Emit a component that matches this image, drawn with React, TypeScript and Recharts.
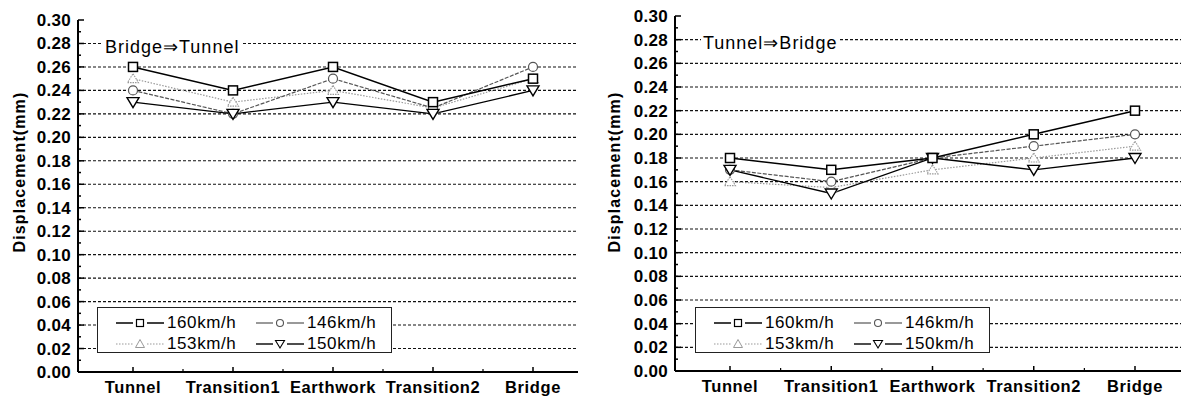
import React from "react";
import { LineChart, Line, XAxis, YAxis, CartesianGrid, ReferenceArea } from "recharts";

// ---- data ----
const sections = ["Tunnel", "Transition1", "Earthwork", "Transition2", "Bridge"];
const speeds = ["160km/h", "146km/h", "153km/h", "150km/h"];

// Bridge => Tunnel
const left160 = [0.26, 0.24, 0.26, 0.23, 0.25];
const left146 = [0.24, 0.22, 0.25, 0.225, 0.26];
const left153 = [0.25, 0.23, 0.24, 0.225, 0.25];
const left150 = [0.23, 0.22, 0.23, 0.22, 0.24];

// Tunnel => Bridge
const right160 = [0.18, 0.17, 0.18, 0.2, 0.22];
const right146 = [0.17, 0.16, 0.18, 0.19, 0.2];
const right153 = [0.16, 0.155, 0.17, 0.18, 0.19];
const right150 = [0.17, 0.15, 0.18, 0.17, 0.18];

const yTicks = [
  0, 0.01, 0.02, 0.03, 0.04, 0.05, 0.06, 0.07, 0.08, 0.09, 0.1, 0.11, 0.12, 0.13, 0.14, 0.15,
  0.16, 0.17, 0.18, 0.19, 0.2, 0.21, 0.22, 0.23, 0.24, 0.25, 0.26, 0.27, 0.28, 0.29, 0.3,
];
const gridValues = [0.02, 0.04, 0.06, 0.08, 0.1, 0.12, 0.14, 0.16, 0.18, 0.2, 0.22, 0.24, 0.26, 0.28];

const FONT = "'Liberation Sans', Arial, sans-serif";

function buildRows(a: number[], b: number[], c: number[], d: number[]) {
  return sections.map((s, i) => ({ section: s, v160: a[i], v146: b[i], v153: c[i], v150: d[i] }));
}

// ---- markers ----
function SquareDot({ cx, cy }: any) {
  if (cx == null || cy == null) return null;
  return <rect x={cx - 4.5} y={cy - 4.5} width={9} height={9} fill="#fff" stroke="#000" strokeWidth={1.5} />;
}
function CircleDot({ cx, cy }: any) {
  if (cx == null || cy == null) return null;
  return <circle cx={cx} cy={cy} r={4.5} fill="#fff" stroke="#555" strokeWidth={1.2} />;
}
function UpDot({ cx, cy }: any) {
  if (cx == null || cy == null) return null;
  return (
    <path
      d={`M${cx},${cy - 5} L${cx + 5.5},${cy + 4} L${cx - 5.5},${cy + 4} Z`}
      fill="#fff"
      stroke="#999"
      strokeWidth={1.1}
      strokeDasharray="1.5 1"
    />
  );
}
function DownDot({ cx, cy }: any) {
  if (cx == null || cy == null) return null;
  return (
    <path
      d={`M${cx - 6},${cy - 4.5} L${cx + 6},${cy - 4.5} L${cx},${cy + 5.5} Z`}
      fill="#fff"
      stroke="#000"
      strokeWidth={1.4}
    />
  );
}

// ---- ticks ----
function YTick({ x, y, payload }: any) {
  const v = payload.value as number;
  const major = Math.round(v * 100) % 2 === 0;
  return (
    <g>
      <line x1={x} y1={y} x2={x + (major ? 6 : 3)} y2={y} stroke="#000" strokeWidth={1.5} />
      {major && (
        <text x={x - 7} y={y + 6} textAnchor="end" fontFamily={FONT} fontWeight="bold" fontSize={17} letterSpacing={0.3} fill="#000">
          {v.toFixed(2)}
        </text>
      )}
    </g>
  );
}

function XTick({ x, y, payload, step }: any) {
  const last = payload.value === sections[sections.length - 1];
  return (
    <g>
      <line x1={x} y1={y} x2={x} y2={y - 5} stroke="#000" strokeWidth={1.5} />
      {!last && <line x1={x + step / 2} y1={y} x2={x + step / 2} y2={y - 3} stroke="#000" strokeWidth={1.2} />}
      <text
        x={x}
        y={y + 21}
        textAnchor="middle"
        fontFamily={FONT}
        fontSize={16.5}
        fontWeight="bold"
        letterSpacing={0.6}
        fill="#000"
      >
        {payload.value}
      </text>
    </g>
  );
}

// ---- legend ----
function Sample({ kind }: { kind: number }) {
  const lineProps =
    kind === 0
      ? { stroke: "#000", strokeWidth: 1.5 }
      : kind === 1
      ? { stroke: "#555", strokeWidth: 1.2 }
      : kind === 2
      ? { stroke: "#999", strokeWidth: 1.2, strokeDasharray: "1.5 1.5" }
      : { stroke: "#000", strokeWidth: 1.4 };
  return (
    <svg width={48} height={14} style={{ position: "absolute", left: 0, top: 0 }}>
      <line x1={0} y1={7} x2={17} y2={7} {...lineProps} />
      <line x1={31} y1={7} x2={48} y2={7} {...lineProps} />
      {kind === 0 && <rect x={20.5} y={3.5} width={7} height={7} fill="#fff" stroke="#000" strokeWidth={1.2} />}
      {kind === 1 && <circle cx={24} cy={7} r={3.5} fill="#fff" stroke="#555" strokeWidth={1.1} />}
      {kind === 2 && <path d="M24,2.5 L28.5,10.5 L19.5,10.5 Z" fill="#fff" stroke="#999" strokeWidth={1} />}
      {kind === 3 && <path d="M19.5,3.5 L28.5,3.5 L24,11 Z" fill="#fff" stroke="#000" strokeWidth={1.1} />}
    </svg>
  );
}

function LegendBox({ left, top }: { left: number; top: number }) {
  const spots = [
    { kind: 0, x: 18, y: 8 },
    { kind: 1, x: 158, y: 8 },
    { kind: 2, x: 18, y: 29 },
    { kind: 3, x: 158, y: 29 },
  ];
  return (
    <div
      style={{
        position: "absolute",
        left,
        top,
        width: 295,
        height: 46,
        boxSizing: "border-box",
        border: "1px solid #222",
        background: "#fff",
        fontFamily: FONT,
      }}
    >
      {spots.map((s) => (
        <div key={s.kind} style={{ position: "absolute", left: s.x, top: s.y, width: 140, height: 16 }}>
          <Sample kind={s.kind} />
          <span
            style={{
              position: "absolute",
              left: 51,
              top: -2,
              fontSize: 17,
              lineHeight: "18px",
              letterSpacing: 0.6,
              color: "#000",
              whiteSpace: "nowrap",
            }}
          >
            {speeds[s.kind]}
          </span>
        </div>
      ))}
    </div>
  );
}

// ---- one panel ----
function Panel(props: {
  left: number;
  width: number;
  top: number;
  right: number;
  yWidth: number;
  xHeight: number;
  step: number;
  padRight: number;
  rows: any[];
}) {
  const { left, width, top, right, yWidth, xHeight, step, padRight, rows } = props;
  return (
    <div style={{ position: "absolute", left, top: 0 }}>
      <LineChart width={width} height={398} data={rows} margin={{ top, right, bottom: 0, left: 0 }}>
        <CartesianGrid
          horizontal
          vertical={false}
          horizontalValues={gridValues}
          stroke="#111"
          strokeWidth={1.1}
          strokeDasharray="3 2"
        />
        <XAxis
          dataKey="section"
          type="category"
          interval={0}
          padding={{ left: 55, right: padRight }}
          height={xHeight}
          tickSize={0}
          tickMargin={0}
          tickLine={false}
          axisLine={{ stroke: "#000", strokeWidth: 2 }}
          tick={<XTick step={step} />}
        />
        <YAxis
          type="number"
          domain={[0, 0.3]}
          ticks={yTicks}
          interval={0}
          width={yWidth}
          tickSize={0}
          tickMargin={0}
          tickLine={false}
          axisLine={{ stroke: "#000", strokeWidth: 2 }}
          tick={<YTick />}
        />
        <ReferenceArea fill="none" stroke="#000" strokeWidth={1.6} ifOverflow="visible" />
        <Line
          dataKey="v153"
          stroke="#999"
          strokeWidth={1.2}
          strokeDasharray="1.5 1.5"
          dot={(p: any) => <UpDot key={`u${p.index}`} {...p} />}
          isAnimationActive={false}
        />
        <Line
          dataKey="v146"
          stroke="#555"
          strokeWidth={1.2}
          strokeDasharray="4 1.5"
          dot={(p: any) => <CircleDot key={`c${p.index}`} {...p} />}
          isAnimationActive={false}
        />
        <Line
          dataKey="v150"
          stroke="#000"
          strokeWidth={1.3}
          dot={(p: any) => <DownDot key={`d${p.index}`} {...p} />}
          isAnimationActive={false}
        />
        <Line
          dataKey="v160"
          stroke="#000"
          strokeWidth={1.5}
          dot={(p: any) => <SquareDot key={`s${p.index}`} {...p} />}
          isAnimationActive={false}
        />
      </LineChart>
    </div>
  );
}

function Note({ text, left, top }: { text: string; left: number; top: number }) {
  return (
    <div
      style={{
        position: "absolute",
        left,
        top,
        fontFamily: FONT,
        fontSize: 18,
        lineHeight: "18px",
        letterSpacing: 1,
        background: "#fff",
        padding: "0 2px",
        whiteSpace: "nowrap",
        color: "#000",
      }}
    >
      {text}
    </div>
  );
}

function YTitle({ cx, cy }: { cx: number; cy: number }) {
  return (
    <div
      style={{
        position: "absolute",
        left: cx,
        top: cy,
        transform: "translate(-50%, -50%) rotate(-90deg)",
        fontFamily: FONT,
        fontWeight: "bold",
        fontSize: 16,
        letterSpacing: 1.1,
        whiteSpace: "nowrap",
        color: "#000",
      }}
    >
      Displacement(mm)
    </div>
  );
}

export default function App() {
  const leftRows = buildRows(left160, left146, left153, left150);
  const rightRows = buildRows(right160, right146, right153, right150);
  return (
    <div style={{ position: "absolute", left: 0, top: 0, width: 1184, height: 398, background: "#fff", overflow: "hidden" }}>
      <Panel left={0} width={590} top={20} right={12} yWidth={78} xHeight={26} step={100} padRight={45} rows={leftRows} />
      <Panel left={590} width={594} top={16} right={3} yWidth={85} xHeight={27} step={101.25} padRight={46} rows={rightRows} />
      <Note text="Bridge⇒Tunnel" left={103} top={38} />
      <Note text="Tunnel⇒Bridge" left={701} top={34} />
      <LegendBox left={97} top={307} />
      <LegendBox left={695} top={307} />
      <YTitle cx={20} cy={172} />
      <YTitle cx={615} cy={172} />
    </div>
  );
}
